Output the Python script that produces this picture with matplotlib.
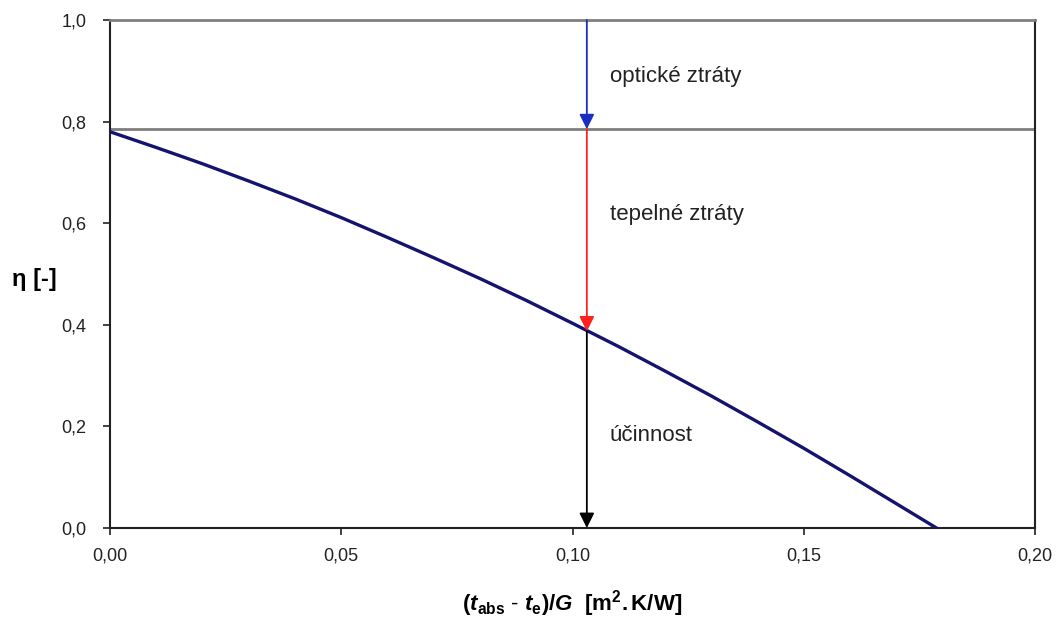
import matplotlib
matplotlib.use("Agg")
import matplotlib.pyplot as plt
from matplotlib.ticker import FuncFormatter

# ---- data ----
x_vals = [0.0, 0.01, 0.02, 0.03, 0.04, 0.05, 0.06, 0.07, 0.08, 0.09,
          0.10, 0.11, 0.12, 0.13, 0.14, 0.15, 0.16, 0.17, 0.1787]
eta_vals = [0.780, 0.749, 0.717, 0.683, 0.648, 0.611, 0.572, 0.532, 0.491, 0.448,
            0.403, 0.357, 0.309, 0.260, 0.209, 0.157, 0.103, 0.048, 0.0]
eta0_line = 0.785
x_arrow = 0.1031
eta_at_arrow = 0.387
x_ticks = [0.0, 0.05, 0.10, 0.15, 0.20]
y_ticks = [0.0, 0.2, 0.4, 0.6, 0.8, 1.0]
labels = ["optické ztráty", "tepelné ztráty", "účinnost"]
label_y = [0.895, 0.625, 0.19]

plt.rcParams['font.family'] = ['Liberation Sans', 'DejaVu Sans']
plt.rcParams['mathtext.fontset'] = 'custom'
plt.rcParams['mathtext.rm'] = 'Liberation Sans'
plt.rcParams['mathtext.it'] = 'Liberation Sans:italic'
plt.rcParams['mathtext.bf'] = 'Liberation Sans:bold'
plt.rcParams['mathtext.bfit'] = 'Liberation Sans:bold:italic'

fig = plt.figure(figsize=(10.58, 6.25), dpi=100)
ax = fig.add_axes([110/1058, 1-528/625, (1035-110)/1058, (528-20)/625])

ax.plot(x_vals, eta_vals, color='#14146e', lw=2.4, zorder=3)
ax.axhline(eta0_line, color='#7f7f7f', lw=2.0, zorder=2)

def arrow(y0, y1, color):
    ax.annotate('', xy=(x_arrow, y1), xytext=(x_arrow, y0),
                arrowprops=dict(arrowstyle='-|>,head_length=0.9,head_width=0.45',
                                color=color, lw=1.3, shrinkA=0, shrinkB=0),
                zorder=4)

arrow(1.0, eta0_line, '#1a2fbf')
arrow(eta0_line, eta_at_arrow, '#ff2020')
arrow(eta_at_arrow, 0.0, '#000000')

for t, yy in zip(labels, label_y):
    ax.text(0.1080, yy - 0.007, t, fontsize=16, color='#222222', va='center', ha='left')

ax.set_xlim(0, 0.2)
ax.set_ylim(0, 1.0)
ax.set_xticks(x_ticks)
ax.set_yticks(y_ticks)
ax.xaxis.set_major_formatter(FuncFormatter(lambda v, p: f"{v:.2f}".replace('.', ',')))
ax.yaxis.set_major_formatter(FuncFormatter(lambda v, p: f"{v:.1f}".replace('.', ',')))
ax.tick_params(direction='out', length=5, width=1.2, labelsize=13,
               colors='#222222', pad=9)
ax.tick_params(axis='y', pad=12)

for s in ['left', 'bottom', 'right']:
    ax.spines[s].set_color('#222222')
    ax.spines[s].set_linewidth(1.5)
ax.spines['top'].set_color('#7f7f7f')
ax.spines['top'].set_linewidth(2.0)

ax.set_ylabel('η [-]', fontsize=17, fontweight='bold', rotation=0,
              labelpad=26, va='center')
ax.yaxis.set_label_coords(-0.082, 0.49)
ax.set_xlabel(r'$\mathbf{(}\mathbfit{t}_{\mathbf{abs}}\mathbf{\ \text{-}\ }\mathbfit{t}_{\mathbf{e}}\mathbf{)/}\mathbfit{G}\mathbf{\ \ [m^2.K/W]}$',
              fontsize=16, labelpad=17)

fig.savefig('out.png', dpi=100, facecolor='white')
